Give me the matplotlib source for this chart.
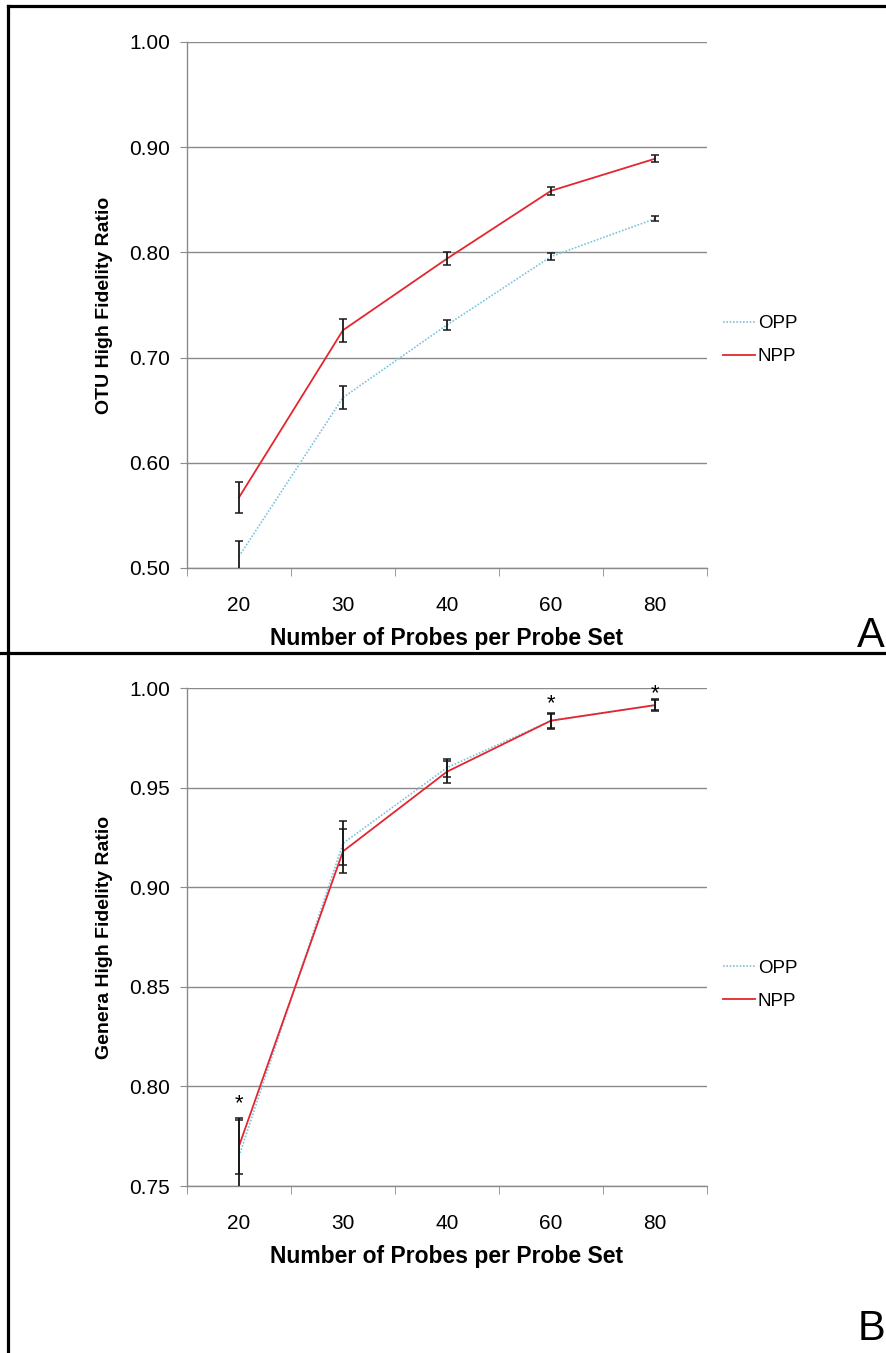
import matplotlib

matplotlib.use("Agg")
import matplotlib.pyplot as plt
from matplotlib.lines import Line2D

plt.rcParams["font.family"] = ["Liberation Sans", "DejaVu Sans"]

# data
probes = ["20", "30", "40", "60", "80"]

otu_opp = [0.511, 0.662, 0.731, 0.796, 0.832]
otu_opp_err = [0.015, 0.011, 0.005, 0.0035, 0.0025]
otu_npp = [0.567, 0.726, 0.794, 0.8585, 0.889]
otu_npp_err = [0.0145, 0.011, 0.006, 0.004, 0.0035]

gen_opp = [0.765, 0.922, 0.960, 0.9836, 0.9914]
gen_opp_err = [0.018, 0.011, 0.0045, 0.004, 0.003]
gen_npp = [0.770, 0.918, 0.958, 0.9836, 0.9914]
gen_npp_err = [0.014, 0.011, 0.0055, 0.0035, 0.0025]
# significance marks (height of the asterisk, None = no mark)
gen_star_y = [0.7915, None, None, 0.9920, 0.9972]

OPP_COLOR = "#7cc4dc"
NPP_COLOR = "#e3262f"
GRID = "#8a8a8a"


def draw_panel(ax, opp, opp_err, npp, npp_err, ylim, step, ylabel, legend_y):
    x = list(range(len(probes)))
    ax.plot(x, opp, color=OPP_COLOR, lw=1.2, ls=(0, (1, 1)), label="OPP", zorder=3)
    ax.plot(x, npp, color=NPP_COLOR, lw=1.3, label="NPP", zorder=4)
    for vals, err in ((opp, opp_err), (npp, npp_err)):
        ax.errorbar(x, vals, yerr=err, fmt="none", ecolor="#1a1a1a",
                    elinewidth=1.3, capsize=3.2, capthick=1.1, zorder=5)

    ax.set_xlim(-0.5, len(probes) - 0.5)
    ax.set_ylim(*ylim)
    n = int(round((ylim[1] - ylim[0]) / step))
    yt = [ylim[0] + i * step for i in range(n + 1)]
    ax.set_yticks(yt)
    ax.set_yticklabels([f"{v:.2f}" for v in yt], fontsize=15)
    ax.yaxis.grid(True, color=GRID, lw=1.0)
    ax.set_axisbelow(True)

    ax.set_xticks(x)
    ax.set_xticklabels(probes, fontsize=15)
    ax.set_xticks([i - 0.5 for i in range(len(probes) + 1)], minor=True)
    ax.tick_params(axis="x", which="major", length=0, pad=20)
    ax.tick_params(axis="x", which="minor", length=6, color=GRID, direction="out")
    ax.tick_params(axis="y", length=5, color=GRID, pad=7)

    for s in ("top", "right"):
        ax.spines[s].set_visible(False)
    for s in ("left", "bottom"):
        ax.spines[s].set_color(GRID)
        ax.spines[s].set_linewidth(1.0)

    ax.set_xlabel("Number of Probes per Probe Set", fontsize=16.5, fontweight="bold", labelpad=9)
    ax.set_ylabel(ylabel, fontsize=14, fontweight="bold", labelpad=12)
    ax.legend(loc="center left", bbox_to_anchor=(1.0, legend_y), frameon=False,
              fontsize=13.5, handlelength=1.7, handletextpad=0.15, labelspacing=0.85,
              borderaxespad=0.55, borderpad=0.3)


fig = plt.figure(figsize=(8.86, 13.53), dpi=100)

ax_a = fig.add_axes([0.211, 0.5802, 0.587, 0.3888])
draw_panel(ax_a, otu_opp, otu_opp_err, otu_npp, otu_npp_err,
           (0.50, 1.00), 0.10, "OTU High Fidelity Ratio", 0.433)

ax_b = fig.add_axes([0.211, 0.1234, 0.587, 0.3681])
draw_panel(ax_b, gen_opp, gen_opp_err, gen_npp, gen_npp_err,
           (0.75, 1.00), 0.05, "Genera High Fidelity Ratio", 0.404)

for i, sy in enumerate(gen_star_y):
    if sy is not None:
        ax_b.text(i, sy, "*", ha="center", va="center", fontsize=16, zorder=6)

fig.text(0.999, 0.5215, "A", ha="right", va="baseline", fontsize=30)
fig.text(0.999, 0.0098, "B", ha="right", va="baseline", fontsize=30)

# panel frame
lw = 2.3
fig.add_artist(Line2D([0.009, 0.009], [0.0, 0.9955], color="black", lw=lw))
fig.add_artist(Line2D([0.009, 1.0], [0.9955, 0.9955], color="black", lw=lw))
fig.add_artist(Line2D([0.0, 1.0], [0.517, 0.517], color="black", lw=lw))

fig.savefig("out.png", dpi=100)
plt.close(fig)
